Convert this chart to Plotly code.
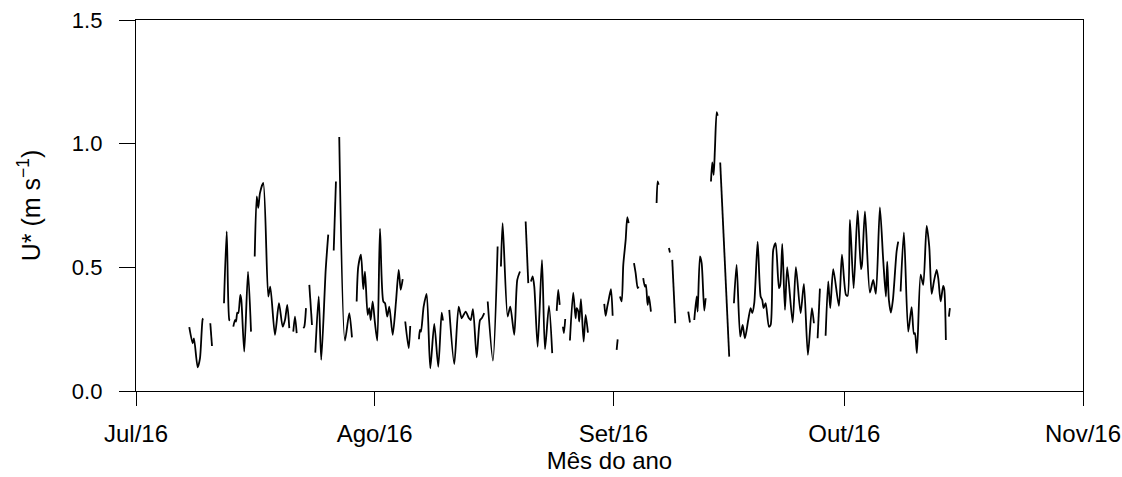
import plotly.graph_objects as go
import pandas as pd

# Friction velocity U* (m s-1); time given as days since 1 Jul 2016; None = gap in record
t_days = [
    6.92, 7.36, 7.53, 8.01, 8.31, 8.66, 8.74, None,
    9.65, 9.87, None,
    11.43, 11.78, 12.12, 12.21, None,
    12.64, 12.86, 12.99, 13.16, 13.29, 13.55, 13.68, 14.06, 14.55, 14.94, None,
    15.42, 15.68, 15.88, 16.10, 16.53, 17.18, 17.44, 18.05, 18.57, 19.05, 19.35, 19.65, 19.91, None,
    20.43, 20.65, 20.87, None,
    21.73, 21.86, 22.08, None,
    22.51, 22.86, None,
    23.29, 23.73, 24.06, 24.64, 24.97, None,
    25.68, 25.97, None,
    26.40, 27.14, 27.70, 28.05, None,
    28.66, 28.87, 29.22, 29.52, 29.74, 30.09, 30.30, 30.48, 30.74, 31.04, 31.34, 31.69, 32.12, 32.34,
    32.64, 32.90, 33.34, 33.77, 34.12, 34.38, 34.64, None,
    34.97, 35.42, 35.62, None,
    36.75, 36.88, 37.01, 37.36, 37.75, 38.22, 38.74, 39.26, 39.70, 39.87, None,
    40.69, 41.34, 41.91, 42.30, 42.56, 42.82, 43.25, 43.47, 43.77, 44.25, 44.68, 44.90, 45.23, None,
    45.68, 46.36, 46.97, None,
    47.40, 47.62, 48.27, 48.61, 49.13, 49.52, 49.87, None,
    50.61, 50.95, None,
    51.30, 51.52, 51.73, 52.17, 52.73, 53.12, 53.64, 54.06, None,
    54.64, 54.84, 55.03, None,
    55.45, 55.58, 55.75, None,
    56.36, 56.79, 57.10, 57.23, 57.44, 57.57, 57.79, 58.14, 58.40, 58.70, None,
    60.82, 61.00, 61.21, 61.39, 61.69, 61.91, None,
    62.43, 62.56, None,
    62.86, 63.08, 63.29, 63.60, 63.81, 63.99, None,
    64.68, 64.90, 65.16, 65.29, None,
    65.88, 66.10, 66.23, 66.45, 66.62, 66.88, None,
    67.62, 67.75, 67.88, None,
    69.22, 69.35, None,
    69.65, 70.04, None,
    71.73, 71.95, None,
    72.51, 72.82, 72.95, 73.25, 73.47, 73.81, 73.99, None,
    74.68, 74.85, 75.03, 75.19, 75.42, 75.55, None,
    75.88, 77.05, None,
    77.66, 78.01, 78.48, 78.79, 79.09, 79.52, 79.83, 80.04, 80.30, 80.74, 81.13, 81.34, 81.52, 81.78,
    82.21, 82.43, 82.77, 83.08, 83.51, 83.68, 83.94, 84.29, 84.58, 85.29, 85.71, 86.32, 86.75, 87.27,
    87.79, 88.05, None,
    88.53, 88.83, None,
    89.57, 89.91, 90.17, 90.56, 91.30, 91.69, 92.21, 92.43, 92.73, 93.21, 93.73, 94.16, 94.29, 94.68,
    95.32, 95.75, 96.10, 96.62, 97.05, 97.40, 97.57, 97.79, 98.05, 98.31, 98.79, 99.00, None,
    99.31, 99.74, 100.30, 100.74, 101.04, 101.17, 101.43, 101.91, 102.25, 102.69, 103.03, 103.34,
    103.64, 103.99, 104.20, 104.51, 104.84, 104.98, 105.19, None,
    105.58, 105.71,
]

ustar = [
    0.258, 0.193, 0.213, 0.096, 0.132, 0.290, 0.293, None,
    0.274, 0.182, None,
    0.355, 0.645, 0.287, 0.285, None,
    0.260, 0.287, 0.281, 0.317, 0.315, 0.389, 0.368, 0.159, 0.483, 0.240, None,
    0.544, 0.787, 0.740, 0.800, 0.841, 0.382, 0.422, 0.227, 0.355, 0.260, 0.287, 0.348, 0.254, None,
    0.240, 0.301, 0.234, None,
    0.254, 0.260, 0.335, None,
    0.429, 0.267, None,
    0.155, 0.382, 0.126, 0.490, 0.632, None,
    0.568, 0.847, None,
    1.027, 0.204, 0.315, 0.217, None,
    0.362, 0.503, 0.551, 0.412, 0.483, 0.308, 0.335, 0.287, 0.362, 0.274, 0.204, 0.656, 0.362, 0.355,
    0.301, 0.341, 0.227, 0.362, 0.490, 0.409, 0.452, None,
    0.281, 0.173, 0.263, None,
    0.209, 0.247, 0.240, 0.341, 0.393, 0.092, 0.271, 0.098, 0.317, 0.285, None,
    0.328, 0.109, 0.341, 0.294, 0.308, 0.321, 0.294, 0.287, 0.331, 0.136, 0.287, 0.294, 0.315, None,
    0.362, 0.123, 0.584, None,
    0.503, 0.679, 0.301, 0.341, 0.227, 0.449, 0.483, None,
    0.685, 0.436, None,
    0.443, 0.463, 0.422, 0.179, 0.530, 0.169, 0.344, 0.153, None,
    0.324, 0.409, 0.348, None,
    0.260, 0.234, 0.291, None,
    0.204, 0.398, 0.294, 0.335, 0.321, 0.281, 0.371, 0.200, 0.308, 0.236, None,
    0.352, 0.304, 0.341, 0.368, 0.412, 0.304, None,
    0.166, 0.209, None,
    0.382, 0.362, 0.510, 0.611, 0.703, 0.679, None,
    0.517, 0.476, 0.416, 0.422, None,
    0.456, 0.422, 0.429, 0.348, 0.382, 0.321, None,
    0.760, 0.847, 0.834, None,
    0.578, 0.560, None,
    0.530, 0.274, None,
    0.321, 0.277, None,
    0.287, 0.382, 0.321, 0.544, 0.517, 0.325, 0.375, None,
    0.847, 0.924, 0.874, 0.976, 1.127, 1.113, None,
    0.924, 0.139, None,
    0.355, 0.510, 0.220, 0.267, 0.213, 0.287, 0.335, 0.315, 0.355, 0.604, 0.382, 0.368, 0.335, 0.355,
    0.260, 0.267, 0.571, 0.598, 0.416, 0.429, 0.595, 0.328, 0.501, 0.277, 0.501, 0.315, 0.433, 0.146,
    0.335, 0.274, None,
    0.213, 0.414, None,
    0.223, 0.443, 0.335, 0.493, 0.344, 0.551, 0.389, 0.385, 0.692, 0.416, 0.729, 0.493, 0.510, 0.726,
    0.398, 0.449, 0.393, 0.742, 0.530, 0.382, 0.523, 0.368, 0.317, 0.368, 0.564, 0.604, None,
    0.402, 0.641, 0.240, 0.339, 0.231, 0.234, 0.153, 0.470, 0.429, 0.668, 0.584, 0.393,
    0.443, 0.490, 0.456, 0.362, 0.425, 0.412, 0.206, None,
    0.301, 0.335,
]

tick_dates = ["2016-07-01", "2016-08-01", "2016-09-01", "2016-10-01", "2016-11-01"]
tick_labels = ["Jul/16", "Ago/16", "Set/16", "Out/16", "Nov/16"]
y_ticks = [0.0, 0.5, 1.0, 1.5]

start = pd.Timestamp("2016-07-01")
x = [None if d is None else (start + pd.Timedelta(days=d)).strftime("%Y-%m-%d %H:%M") for d in t_days]

fig = go.Figure()
fig.add_trace(go.Scatter(
    x=x, y=ustar, mode="lines",
    line=dict(color="black", width=1.8, shape="spline", smoothing=0.7),
    connectgaps=False, showlegend=False, hoverinfo="skip",
))

FONT = "Liberation Sans, Arial, sans-serif"
fig.update_layout(
    width=1122, height=477,
    margin=dict(l=136, r=39, t=20, b=86),
    paper_bgcolor="white", plot_bgcolor="white",
    font=dict(family=FONT, color="black"),
)
fig.update_xaxes(
    type="date",
    range=[tick_dates[0], tick_dates[-1]],
    tickmode="array", tickvals=tick_dates, ticktext=tick_labels,
    ticks="outside", ticklen=14, tickwidth=1, tickcolor="black",
    tickfont=dict(size=24, family=FONT),
    ticklabelstandoff=7,
    showline=True, linecolor="black", linewidth=1.3, mirror=True,
    showgrid=False, zeroline=False,
    title=dict(text="Mês do ano", font=dict(size=24, family=FONT), standoff=2),
    automargin=False,
)
fig.update_yaxes(
    range=[0, 1.5],
    tickmode="array", tickvals=y_ticks, ticktext=[f"{v:.1f}" for v in y_ticks],
    ticks="outside", ticklen=16, tickwidth=1, tickcolor="black",
    tickfont=dict(size=22, family=FONT),
    ticklabelstandoff=12,
    showline=True, linecolor="black", linewidth=1.3, mirror=True,
    showgrid=False, zeroline=False,
    title=dict(text="U* (m s<sup>−1</sup>)", font=dict(size=25, family=FONT), standoff=24),
    automargin=False,
)

fig.write_html("out.html")
